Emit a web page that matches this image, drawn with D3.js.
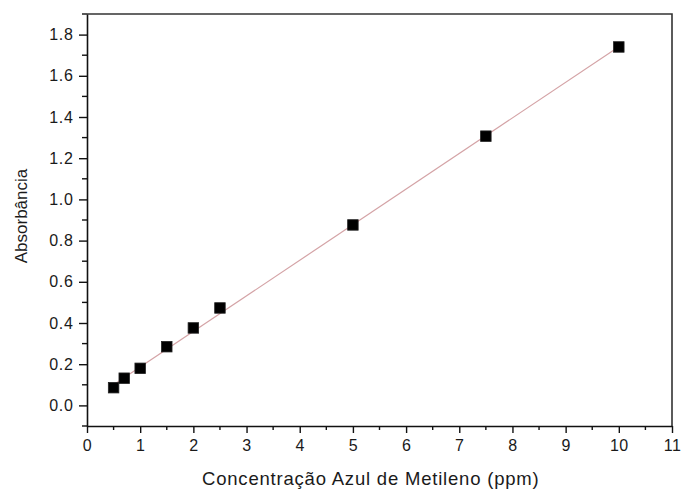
<!DOCTYPE html>
<html><head><meta charset="utf-8">
<script src="https://cdn.jsdelivr.net/npm/d3@7"></script>
<style>body{margin:0;background:#fff}svg{display:block}</style>
</head><body>
<svg id="c" width="681" height="490"></svg>
<script>
const concX = [0.5, 0.7, 1.0, 1.5, 2.0, 2.5, 5.0, 7.5, 10.0];
const absY  = [0.086, 0.132, 0.180, 0.285, 0.376, 0.473, 0.876, 1.307, 1.740];
const fitX = [0.5, 10.0];
const fitY = [0.100, 1.741];
const xTicks = [0,1,2,3,4,5,6,7,8,9,10,11];
const yTicks = [0.0,0.2,0.4,0.6,0.8,1.0,1.2,1.4,1.6,1.8];
const xLabel = "Concentração Azul de Metileno (ppm)";
const yLabel = "Absorbância";

const L = 87, R = 672, T = 14, B = 426;
const svg = d3.select("#c");
const x = d3.scaleLinear().domain([0, 11]).range([L, R]);
const y = d3.scaleLinear().domain([-0.1, 1.9]).range([B, T]);
const font = "Liberation Sans, Arial, sans-serif";

// frame top/right
svg.append("path").attr("d", `M${L},${T}H${R}V${B}`).attr("fill","none").attr("stroke","#333").attr("stroke-width",1.6);

// minor ticks
const xMinor = d3.range(0.5, 11, 1);
const yMinor = d3.range(-0.1, 1.95, 0.2).map(v => +v.toFixed(2));
svg.append("g").selectAll("line").data(xMinor).join("line")
  .attr("x1", d => x(d)).attr("x2", d => x(d)).attr("y1", B).attr("y2", B + 4)
  .attr("stroke", "#111").attr("stroke-width", 1.4);
svg.append("g").selectAll("line").data(yMinor).join("line")
  .attr("y1", d => y(d)).attr("y2", d => y(d)).attr("x1", L).attr("x2", L - 5)
  .attr("stroke", "#111").attr("stroke-width", 1.4);

// axes
const xAxis = d3.axisBottom(x).tickValues(xTicks).tickFormat(d3.format("d")).tickSizeInner(7).tickSizeOuter(0).tickPadding(7);
const yAxis = d3.axisLeft(y).tickValues(yTicks).tickFormat(d3.format(".1f")).tickSizeInner(8).tickSizeOuter(0).tickPadding(6);
const gx = svg.append("g").attr("transform", `translate(0,${B})`).call(xAxis);
const gy = svg.append("g").attr("transform", `translate(${L},0)`).call(yAxis);
[gx, gy].forEach(g => {
  g.select(".domain").attr("stroke", "#111").attr("stroke-width", 1.6);
  g.selectAll(".tick line").attr("stroke", "#111").attr("stroke-width", 1.4);
  g.selectAll(".tick text").attr("font-family", font).attr("font-size", 16).attr("fill", "#1a1a1a");
});
gy.selectAll(".tick text").attr("letter-spacing", 0.8).attr("dx", 0.8);
gx.selectAll(".tick text").attr("letter-spacing", 0.5);

// fit line
svg.append("line")
  .attr("x1", x(fitX[0])).attr("y1", y(fitY[0]))
  .attr("x2", x(fitX[1])).attr("y2", y(fitY[1]))
  .attr("stroke", "#d4a3a6").attr("stroke-width", 1.2);

// points
const s = 10.5;
svg.append("g").selectAll("rect").data(concX).join("rect")
  .attr("x", (d) => x(d) - s/2)
  .attr("y", (d, i) => y(absY[i]) - s/2)
  .attr("width", s).attr("height", s)
  .attr("fill", "#000").attr("stroke", "#222").attr("stroke-width", 0.8);

// labels
svg.append("text").attr("x", 202).attr("y", 485).attr("text-anchor", "start")
  .attr("font-family", font).attr("font-size", 18.5).attr("letter-spacing", 0.8).attr("fill", "#1a1a1a").text(xLabel);
svg.append("text").attr("transform", "translate(27,216) rotate(-90)").attr("text-anchor", "middle")
  .attr("font-family", font).attr("font-size", 17).attr("fill", "#1a1a1a").text(yLabel);
</script>
</body></html>
